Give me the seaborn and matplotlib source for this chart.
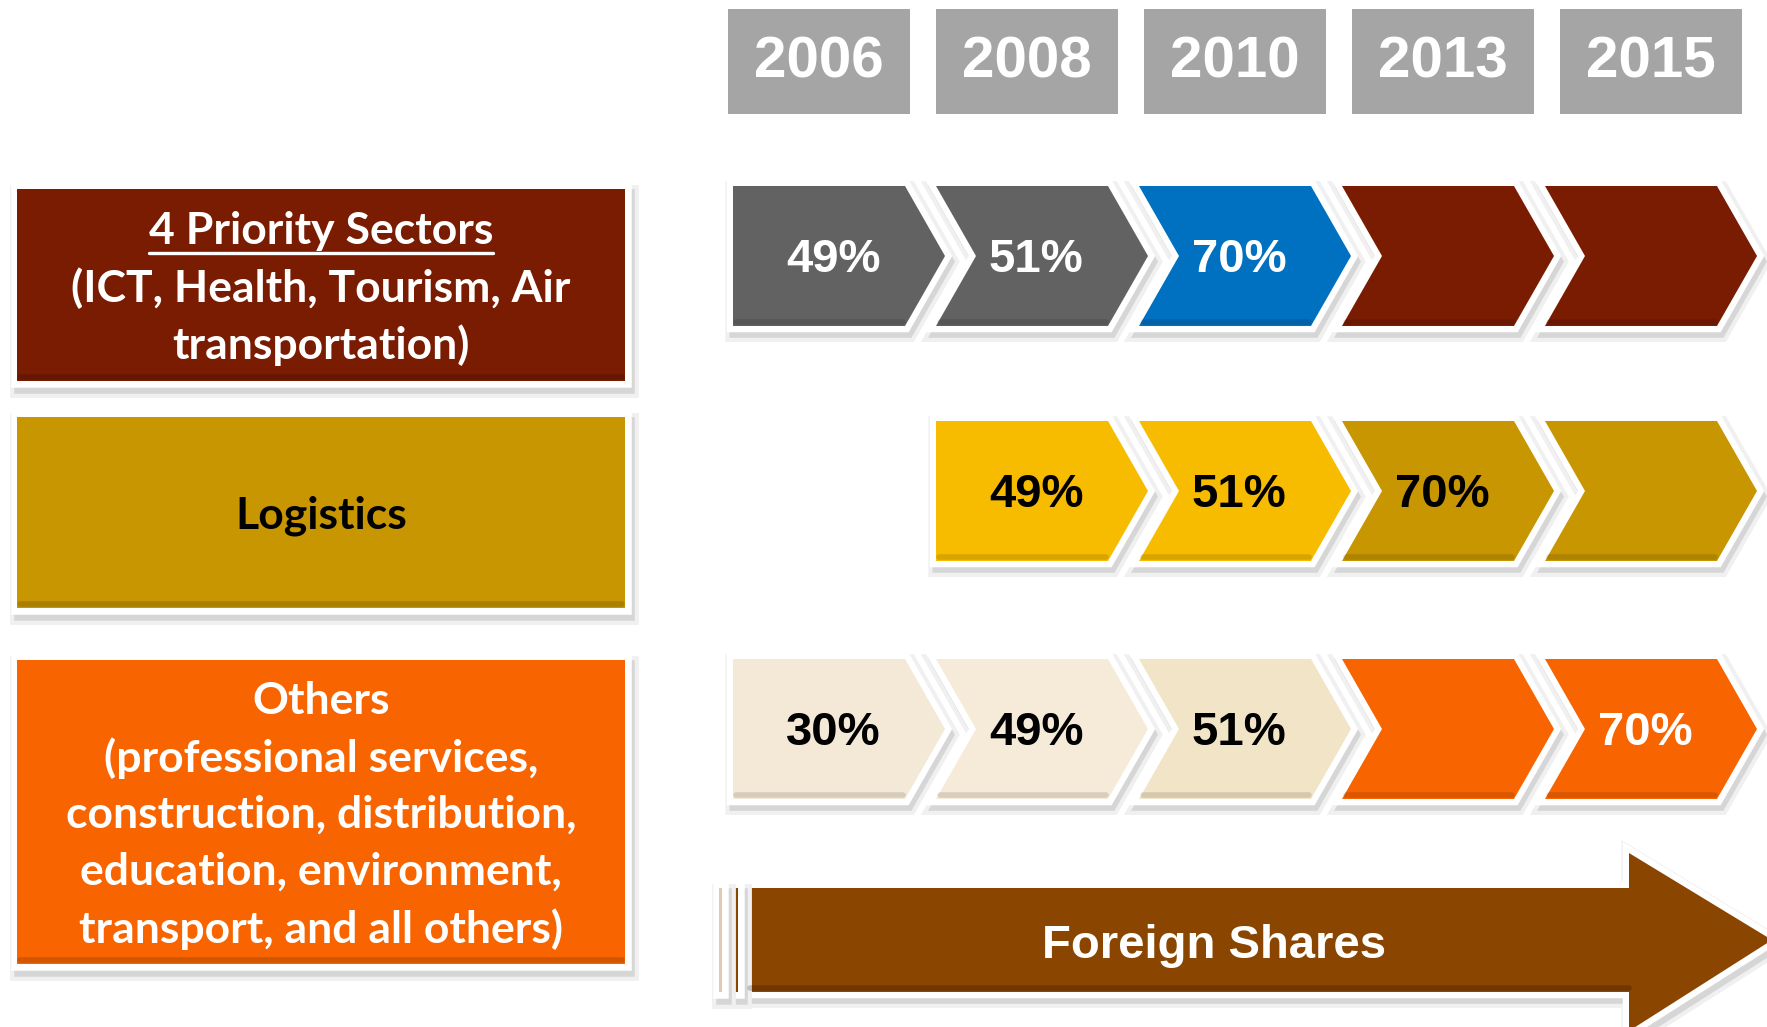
import matplotlib
matplotlib.use("Agg")
import matplotlib.pyplot as plt
import matplotlib.patheffects as pe
from matplotlib.patches import Polygon, Rectangle
from matplotlib import font_manager
import seaborn as sns

# --- data ---
years = ['2006', '2008', '2010', '2013', '2015']
sectors = [
    ['4 Priority Sectors', '(ICT, Health, Tourism, Air', 'transportation)'],
    ['Logistics'],
    ['Others', '(professional services,', 'construction, distribution,',
     'education, environment,', 'transport, and all others)'],
]
priority_shares = ['49%', '51%', '70%', '', '']
logistics_shares = [None, '49%', '51%', '70%', '']
others_shares = ['30%', '49%', '51%', '', '70%']
shares = [priority_shares, logistics_shares, others_shares]
arrow_label = 'Foreign Shares'

# --- styles ---
sector_colors = ['#7A1C02', '#C79600', '#F76400']
sector_text = ['white', 'black', 'white']
cell_colors = [
    ['#626262', '#626262', '#0070C0', '#7A1C02', '#7A1C02'],
    [None, '#F7BC00', '#F7BC00', '#C79600', '#C79600'],
    ['#F3E9D6', '#F5EBD8', '#F2E4C7', '#F76400', '#F76400'],
]
cell_text = [
    ['white'] * 5,
    ['black'] * 5,
    ['black', 'black', 'black', 'white', 'white'],
]
year_color = '#A5A5A5'
arrow_color = '#8A4500'

sns.set_theme(style='white')

available = {f.name for f in font_manager.fontManager.ttflist}
label_font = 'Lato' if 'Lato' in available else 'DejaVu Sans'
num_font = 'Liberation Sans' if 'Liberation Sans' in available else 'DejaVu Sans'

W, H = 1767, 1027
fig = plt.figure(figsize=(W / 100, H / 100), dpi=100)
ax = fig.add_axes([0, 0, 1, 1])
ax.set_xlim(0, W)
ax.set_ylim(H, 0)
ax.axis('off')

# soft shadow + white frame drawn outside the fill
framed = [
    pe.SimplePatchShadow(offset=(2, -4), shadow_rgbFace='#f0f0f0', foreground='#f0f0f0',
                         linewidth=15, alpha=1),
    pe.SimplePatchShadow(offset=(2, -4), shadow_rgbFace='#d6d6d6', foreground='#d6d6d6',
                         linewidth=9, alpha=1),
    pe.Stroke(linewidth=9, foreground='white'),
    pe.Normal(),
]

# layout
col0, col_step, cell_w, tip = 733, 203, 212, 40
row_tops = [186, 421, 659]
row_h = 140
box_left, box_right = 17, 625
box_tops = [189, 417, 660]
box_bottoms = [381, 608, 964]
line_step = 57

# year headers
for i, yr in enumerate(years):
    x = 728 + i * 208
    ax.add_patch(Rectangle((x, 9), 182, 105, facecolor=year_color, edgecolor='none'))
    ax.text(x + 91, 62, yr, ha='center', va='center', color='white',
            fontsize=42, fontweight='bold', family=num_font)

# sector boxes
for r, lines in enumerate(sectors):
    top, bot = box_tops[r], box_bottoms[r]
    ax.add_patch(Rectangle((box_left, top), box_right - box_left, bot - top,
                           facecolor=sector_colors[r], edgecolor='none',
                           path_effects=framed, zorder=2))
    ax.plot([box_left + 3, box_right - 3], [bot - 4, bot - 4], color='black', alpha=0.15, lw=4, zorder=3)
    cy = (top + bot) / 2 + 3
    n = len(lines)
    for k, line in enumerate(lines):
        y = cy + (k - (n - 1) / 2) * line_step
        t = ax.text((box_left + box_right) / 2, y, line, ha='center', va='center',
                    color=sector_text[r], fontsize=32, fontweight='bold', family=label_font, zorder=4)
        if r == 0 and k == 0:
            underline_text = t

# chevrons
for r, row in enumerate(shares):
    top = row_tops[r]
    bot = top + row_h
    mid = (top + bot) / 2
    for c, label in enumerate(row):
        if label is None:
            continue
        L = col0 + c * col_step
        first = c == 0 or row[c - 1] is None
        pts = [(L, top), (L + cell_w - tip, top), (L + cell_w, mid),
               (L + cell_w - tip, bot), (L, bot)]
        if not first:
            pts.append((L + tip, mid))
        ax.add_patch(Polygon(pts, closed=True, facecolor=cell_colors[r][c], edgecolor='none',
                             joinstyle='miter', path_effects=framed, zorder=2 + c * 0.01))
        ax.plot([L + (3 if first else 4), L + cell_w - tip - 2], [bot - 4, bot - 4],
                color='black', alpha=0.12, lw=4, zorder=3)
        if label:
            ax.text(L + 100, mid + 4, label, ha='center', va='center', color=cell_text[r][c],
                    fontsize=34, fontweight='bold', family=num_font, zorder=4)

# foreign shares arrow
a_left, a_head, a_tip = 747, 1629, 1772
b_top, b_bot, h_top, h_bot = 888, 992, 853, 1031
a_mid = (b_top + b_bot) / 2
arrow_pts = [(a_left, b_top), (a_head, b_top), (a_head, h_top), (a_tip, a_mid),
             (a_head, h_bot), (a_head, b_bot), (a_left, b_bot)]
ax.add_patch(Polygon(arrow_pts, closed=True, facecolor=arrow_color, edgecolor='none',
                     joinstyle='miter', path_effects=framed, zorder=2))
ax.add_patch(Rectangle((731, b_top), 7, b_bot - b_top, facecolor=arrow_color, edgecolor='none',
                       path_effects=framed, zorder=2))
ax.add_patch(Rectangle((719, b_top), 3, b_bot - b_top, facecolor='#E2C9B0', edgecolor='none',
                       path_effects=framed, zorder=2))
ax.plot([a_left + 3, a_head], [b_bot - 4, b_bot - 4], color='black', alpha=0.2, lw=4, zorder=3)
ax.text(1214, a_mid + 6, arrow_label, ha='center', va='center', color='white',
        fontsize=34, fontweight='bold', family=num_font, zorder=4)

# underline for the first sector title
fig.canvas.draw()
bb = underline_text.get_window_extent().transformed(ax.transData.inverted())
ax.plot([bb.x0, bb.x1], [253, 253], color='white', lw=2.4, zorder=4)

fig.savefig('out.png', dpi=100)
